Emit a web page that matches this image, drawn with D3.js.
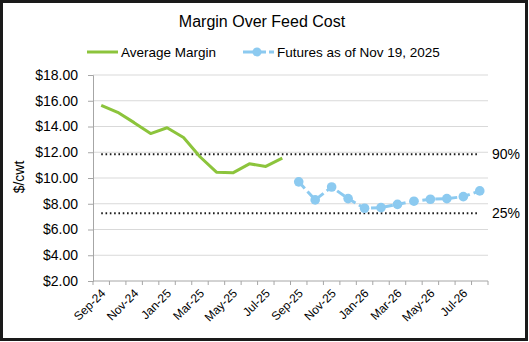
<!DOCTYPE html>
<html>
<head>
<meta charset="utf-8">
<script src="https://cdn.jsdelivr.net/npm/d3@7"></script>
<style>
  body { margin: 0; background: #fff; }
  svg { display: block; font-family: "Liberation Sans", Arial, sans-serif; }
</style>
</head>
<body>
<div id="chart"></div>
<script>
// Monthly categories, Sep-24 through Aug-26
const months = ["Sep-24", "Oct-24", "Nov-24", "Dec-24", "Jan-25", "Feb-25", "Mar-25", "Apr-25",
    "May-25", "Jun-25", "Jul-25", "Aug-25", "Sep-25", "Oct-25", "Nov-25", "Dec-25",
    "Jan-26", "Feb-26", "Mar-26", "Apr-26", "May-26", "Jun-26", "Jul-26", "Aug-26"];

// Average margin (actuals), $/cwt
const avgMonths = months.slice(0, 12);
const avgMargin = [15.65, 15.1, 14.3, 13.45, 13.9, 13.15, 11.65, 10.45, 10.4, 11.1, 10.9, 11.55];

// Futures-based margin as of Nov 19, 2025
const futMonths = months.slice(12);
const futures = [9.7, 8.3, 9.3, 8.4, 7.65, 7.7, 7.95, 8.2, 8.35, 8.4, 8.55, 9.0];

// Historical percentile reference lines
const percentiles = [{ label: "90%", value: 11.84 }, { label: "25%", value: 7.26 }];

const yTicks = [2, 4, 6, 8, 10, 12, 14, 16, 18];

const W = 529, H = 342;
const margin = { top: 75, right: 41, bottom: 61, left: 93 };
const width = W - margin.left - margin.right,
    height = H - margin.top - margin.bottom;

const green = "#8cc43c", blue = "#8ccaf0";

const svg = d3.select("#chart").append("svg")
    .attr("width", W)
    .attr("height", H);

// outer frame
svg.append("rect")
    .attr("x", 1.5).attr("y", 1.5)
    .attr("width", W - 4).attr("height", H - 4)
    .attr("fill", "#fff")
    .attr("stroke", "#1a1a1a")
    .attr("stroke-width", 3);

svg.append("text")
    .attr("x", 262).attr("y", 27)
    .attr("text-anchor", "middle")
    .attr("font-size", 16)
    .attr("fill", "#000")
    .text("Margin Over Feed Cost");

// legend
const leg = svg.append("g").attr("font-size", 13.5).attr("fill", "#000");
leg.append("line")
    .attr("x1", 87).attr("x2", 118).attr("y1", 52).attr("y2", 52)
    .attr("stroke", green).attr("stroke-width", 3);
leg.append("text").attr("x", 121).attr("y", 57).text("Average Margin");
leg.append("line")
    .attr("x1", 243).attr("x2", 274).attr("y1", 52).attr("y2", 52)
    .attr("stroke", blue).attr("stroke-width", 3)
    .attr("stroke-dasharray", "10,3");
leg.append("circle")
    .attr("cx", 257).attr("cy", 52).attr("r", 4.5)
    .attr("fill", blue);
leg.append("text").attr("x", 277).attr("y", 57).text("Futures as of Nov 19, 2025");

const g = svg.append("g")
    .attr("transform", `translate(${margin.left},${margin.top})`);

const x = d3.scaleBand()
    .domain(months)
    .range([0, width]);

const y = d3.scaleLinear()
    .domain([2, 18])
    .range([height, 0]);

const cx = d => x(d) + x.bandwidth() / 2;

// gridlines
g.append("g")
    .selectAll("line")
    .data(yTicks.slice(1))
    .join("line")
    .attr("x1", 0).attr("x2", width)
    .attr("y1", d => y(d)).attr("y2", d => y(d))
    .attr("stroke", "#d9d9d9")
    .attr("stroke-width", 1);

// y axis
const yAxis = g.append("g")
    .call(d3.axisLeft(y).tickValues(yTicks).tickSize(5).tickPadding(10)
        .tickFormat(d => "$" + d3.format(".2f")(d)));
yAxis.select(".domain").attr("stroke", "#a6a6a6");
yAxis.selectAll(".tick line").attr("stroke", "#a6a6a6");
yAxis.selectAll("text").attr("font-size", 14).attr("fill", "#000")
    .attr("font-family", "Liberation Sans, Arial, sans-serif");

// x axis: tick marks on category boundaries, labels every other month
const xAxis = g.append("g").attr("transform", `translate(0,${height})`);
xAxis.append("line")
    .attr("x1", 0).attr("x2", width)
    .attr("stroke", "#a6a6a6");
xAxis.selectAll(".bnd")
    .data(months.concat(["end"]))
    .join("line")
    .attr("class", "bnd")
    .attr("x1", (d, i) => i * x.step()).attr("x2", (d, i) => i * x.step())
    .attr("y1", 0).attr("y2", 4)
    .attr("stroke", "#a6a6a6");
xAxis.selectAll("text")
    .data(months.filter((d, i) => i % 2 === 0))
    .join("text")
    .attr("transform", d => `translate(${cx(d) + 2},${10}) rotate(-45)`)
    .attr("text-anchor", "end")
    .attr("dy", "0.35em")
    .attr("font-size", 12)
    .attr("fill", "#000")
    .text(d => d);

// y axis title
svg.append("text")
    .attr("transform", "translate(24,177) rotate(-90)")
    .attr("text-anchor", "middle")
    .attr("font-size", 14)
    .attr("fill", "#000")
    .text("$/cwt");

// percentile lines
g.selectAll(".pct")
    .data(percentiles)
    .join("line")
    .attr("class", "pct")
    .attr("x1", cx(months[0])).attr("x2", width - 11)
    .attr("y1", d => y(d.value)).attr("y2", d => y(d.value))
    .attr("stroke", "#1a1a1a")
    .attr("stroke-width", 2)
    .attr("stroke-dasharray", "1.6,2.7");
g.selectAll(".pctLabel")
    .data(percentiles)
    .join("text")
    .attr("class", "pctLabel")
    .attr("x", width + 4)
    .attr("y", d => y(d.value) + 5)
    .attr("font-size", 14)
    .attr("fill", "#000")
    .text(d => d.label);

const line = d3.line()
    .x(d => cx(d[0]))
    .y(d => y(d[1]));

// average margin
g.append("path")
    .datum(d3.zip(avgMonths, avgMargin))
    .attr("d", line)
    .attr("fill", "none")
    .attr("stroke", green)
    .attr("stroke-width", 3)
    .attr("stroke-linejoin", "round");

// futures
const futData = d3.zip(futMonths, futures);
g.append("path")
    .datum(futData)
    .attr("d", line)
    .attr("fill", "none")
    .attr("stroke", blue)
    .attr("stroke-width", 3)
    .attr("stroke-dasharray", "9,4");
g.selectAll(".fut")
    .data(futData)
    .join("circle")
    .attr("class", "fut")
    .attr("cx", d => cx(d[0]))
    .attr("cy", d => y(d[1]))
    .attr("r", 4.8)
    .attr("fill", blue);
</script>
</body>
</html>
